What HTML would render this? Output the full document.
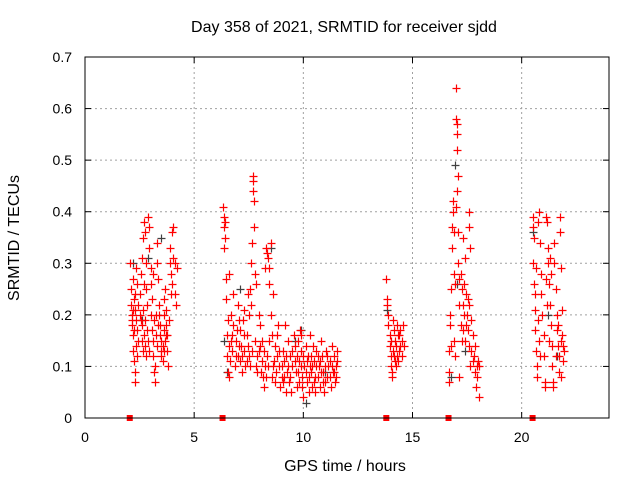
<!DOCTYPE html>
<html><head><meta charset="utf-8"><style>
body{margin:0;background:#fff}
svg text{font-family:"Liberation Sans",sans-serif;font-size:14px;fill:#000}
svg text.big{font-size:16px}
</style></head><body>
<svg id="chart" width="640" height="480" viewBox="0 0 640 480" xmlns="http://www.w3.org/2000/svg">
<rect width="640" height="480" fill="#fff"/>
<text class="big" x="344" y="32" text-anchor="middle">Day 358 of 2021, SRMTID for receiver sjdd</text>
<text class="big" x="345" y="471" text-anchor="middle">GPS time / hours</text>
<text class="big" transform="translate(19,238) rotate(-90)" text-anchor="middle">SRMTID / TECUs</text>
<g id="grid"></g><g id="axes"></g><g id="pts"></g>
<rect x="85" y="57" width="524" height="361" fill="none" stroke="#000" stroke-width="1"/>
</svg>
<script>
const xTicks=[0,5,10,15,20];
const yTicks=[0,0.1,0.2,0.3,0.4,0.5,0.6,0.7];
const yTickLabels=["0","0.1","0.2","0.3","0.4","0.5","0.6","0.7"];
const passStarts=[2.05,6.3,13.8,16.65,20.5];
const passA=[[2.05,0.30],[2.1,0.25],[2.1,0.22],[2.15,0.2],[2.15,0.18],[2.2,0.16],[2.2,0.13],[2.25,0.11],[2.3,0.07],[2.3,0.09],[2.2,0.27],[2.25,0.23],[2.3,0.21],[2.35,0.19],[2.4,0.17],[2.45,0.15],[2.5,0.24],[2.55,0.28],[2.6,0.31],[2.65,0.35],[2.7,0.38],[2.75,0.36],[2.8,0.3],[2.5,0.2],[2.6,0.18],[2.7,0.16],[2.75,0.14],[2.8,0.12],[2.85,0.22],[2.9,0.39],[2.95,0.37],[2.95,0.33],[3.0,0.26],[3.0,0.2],[3.05,0.17],[3.1,0.15],[3.1,0.12],[3.15,0.09],[3.2,0.07],[3.2,0.1],[3.3,0.34],[3.3,0.3],[3.35,0.27],[3.4,0.22],[3.45,0.18],[3.5,0.15],[3.5,0.13],[3.55,0.11],[3.6,0.2],[3.6,0.23],[3.65,0.25],[3.7,0.16],[3.75,0.13],[3.8,0.1],[3.9,0.33],[3.9,0.3],[3.95,0.28],[4.0,0.26],[4.0,0.36],[4.05,0.37],[4.1,0.3],[4.1,0.24],[4.15,0.22],[3.0,0.29],[2.4,0.26],[2.3,0.24],[3.4,0.2],[3.5,0.12],[2.8,0.25],[3.7,0.18]];
const passA2=[[2.15,0.19],[2.2,0.21],[2.25,0.17],[2.35,0.14],[2.4,0.12],[2.45,0.22],[2.55,0.19],[2.6,0.15],[2.65,0.21],[2.7,0.26],[2.75,0.19],[2.85,0.17],[2.9,0.15],[2.95,0.13],[3.05,0.23],[3.1,0.28],[3.15,0.19],[3.25,0.16],[3.3,0.14],[3.35,0.18],[3.45,0.16],[3.55,0.14],[3.6,0.17],[3.65,0.15],[3.7,0.21],[3.75,0.16],[3.85,0.19],[3.95,0.24],[4.05,0.31],[4.2,0.29],[2.35,0.29],[3.25,0.2],[2.65,0.13],[3.6,0.13]];
const passB=[[6.3,0.41],[6.35,0.39],[6.35,0.37],[6.4,0.38],[6.4,0.35],[6.35,0.33],[6.45,0.27],[6.45,0.23],[6.5,0.16],[6.5,0.12],[6.55,0.09],[6.6,0.08],[6.7,0.2],[6.7,0.15],[6.75,0.13],[6.8,0.18],[6.85,0.1],[6.9,0.12],[6.95,0.17],[7.0,0.22],[7.05,0.14],[7.1,0.11],[7.2,0.09],[7.25,0.19],[7.3,0.13],[7.35,0.1],[7.4,0.16],[7.5,0.12],[7.5,0.2],[7.55,0.25],[7.6,0.3],[7.6,0.22],[7.65,0.34],[7.7,0.47],[7.7,0.46],[7.7,0.44],[7.75,0.42],[7.75,0.37],[7.8,0.28],[7.85,0.26],[7.8,0.15],[7.9,0.12],[7.9,0.09],[8.0,0.14],[8.0,0.18],[8.1,0.11],[8.15,0.08],[8.2,0.13],[8.3,0.33],[8.35,0.32],[8.4,0.31],[8.45,0.29],[8.5,0.34],[8.5,0.2],[8.55,0.16],[8.6,0.1],[8.7,0.07],[8.7,0.14],[8.8,0.12],[8.85,0.18],[8.9,0.1],[8.95,0.06],[9.0,0.08],[9.05,0.13],[9.1,0.11],[9.2,0.05],[9.25,0.09],[9.3,0.15],[9.35,0.07],[9.4,0.12],[9.5,0.1],[9.55,0.16],[9.6,0.14],[9.65,0.09],[9.7,0.06],[9.8,0.11],[9.85,0.17],[9.9,0.13],[9.95,0.08],[10.0,0.04],[10.05,0.1],[10.1,0.14],[10.15,0.07],[10.2,0.12],[10.3,0.16],[10.35,0.09],[10.4,0.06],[10.5,0.11],[10.55,0.08],[10.6,0.13],[10.7,0.1],[10.75,0.06],[10.8,0.09],[10.85,0.12],[10.9,0.07],[11.0,0.1],[11.05,0.13],[11.1,0.08],[11.2,0.11],[11.25,0.06],[11.3,0.14],[11.35,0.09],[11.4,0.12],[11.45,0.07],[11.5,0.1],[11.55,0.11],[7.1,0.17],[7.3,0.21],[8.2,0.06],[8.6,0.24],[9.15,0.18],[9.45,0.05],[10.25,0.05],[10.45,0.14],[10.95,0.05],[8.25,0.1],[7.95,0.2],[6.8,0.24],[6.6,0.28],[9.9,0.16],[10.8,0.15],[9.75,0.09],[10.65,0.08],[11.15,0.1],[9.05,0.07],[10.35,0.12]];
const passB2=[[6.55,0.19],[6.6,0.14],[6.65,0.11],[6.75,0.16],[6.9,0.15],[7.0,0.12],[7.05,0.19],[7.15,0.14],[7.2,0.12],[7.3,0.16],[7.4,0.11],[7.45,0.14],[7.55,0.1],[7.65,0.13],[7.85,0.1],[7.95,0.13],[8.05,0.09],[8.1,0.15],[8.3,0.08],[8.35,0.12],[8.4,0.1],[8.45,0.15],[8.55,0.08],[8.65,0.11],[8.75,0.09],[8.8,0.16],[8.9,0.13],[9.0,0.1],[9.1,0.08],[9.2,0.12],[9.3,0.1],[9.4,0.08],[9.5,0.13],[9.6,0.11],[9.7,0.12],[9.75,0.15],[9.8,0.07],[9.9,0.1],[10.0,0.12],[10.1,0.09],[10.15,0.11],[10.25,0.08],[10.3,0.1],[10.4,0.1],[10.5,0.07],[10.6,0.1],[10.65,0.12],[10.75,0.11],[10.9,0.09],[11.0,0.07],[11.1,0.12],[11.2,0.08],[11.3,0.1],[11.4,0.09],[11.5,0.08],[11.55,0.13],[8.45,0.26],[7.45,0.24],[8.25,0.29],[9.95,0.06],[10.55,0.05]];
const passC=[[13.8,0.27],[13.85,0.23],[13.85,0.22],[13.9,0.2],[13.9,0.18],[13.95,0.16],[13.95,0.14],[14.0,0.12],[14.0,0.1],[14.05,0.09],[14.05,0.08],[14.1,0.13],[14.15,0.17],[14.2,0.15],[14.2,0.11],[14.25,0.14],[14.3,0.18],[14.3,0.12],[14.35,0.16],[14.4,0.13],[14.45,0.17],[14.5,0.15],[14.5,0.12],[14.55,0.18],[14.6,0.14],[14.1,0.19],[14.25,0.1],[14.4,0.16],[14.0,0.15],[14.15,0.12],[14.35,0.11],[14.45,0.14]];
const passD=[[16.65,0.07],[16.65,0.09],[16.65,0.13],[16.7,0.2],[16.7,0.18],[16.75,0.14],[16.75,0.25],[16.8,0.33],[16.8,0.37],[16.85,0.42],[16.85,0.4],[16.9,0.36],[16.9,0.28],[16.95,0.26],[17.0,0.64],[17.0,0.58],[17.05,0.57],[17.05,0.55],[17.05,0.52],[17.1,0.47],[17.05,0.44],[17.1,0.36],[17.1,0.3],[17.15,0.27],[17.15,0.22],[17.2,0.18],[17.25,0.15],[17.3,0.22],[17.35,0.26],[17.4,0.31],[17.45,0.24],[17.5,0.2],[17.55,0.17],[17.6,0.14],[17.65,0.1],[17.7,0.13],[17.75,0.16],[17.8,0.12],[17.85,0.09],[17.9,0.06],[17.95,0.08],[18.0,0.11],[18.05,0.04],[18.05,0.1],[17.6,0.4],[17.6,0.37],[17.65,0.33],[17.6,0.22],[17.2,0.28],[17.3,0.35],[16.95,0.12],[17.15,0.08],[17.0,0.41],[17.7,0.19],[17.25,0.25],[17.35,0.2],[17.45,0.18],[17.55,0.23],[17.75,0.11],[17.85,0.14],[17.95,0.1],[17.4,0.15],[17.3,0.17],[16.9,0.15]];
const passE=[[20.5,0.39],[20.5,0.37],[20.55,0.35],[20.5,0.3],[20.55,0.26],[20.6,0.21],[20.6,0.17],[20.65,0.13],[20.7,0.1],[20.7,0.08],[20.75,0.38],[20.8,0.4],[20.85,0.34],[20.9,0.28],[20.9,0.24],[20.95,0.2],[21.0,0.16],[21.0,0.12],[21.05,0.07],[21.05,0.06],[21.1,0.39],[21.15,0.38],[21.2,0.33],[21.2,0.3],[21.25,0.26],[21.3,0.22],[21.35,0.18],[21.4,0.14],[21.4,0.1],[21.45,0.07],[21.45,0.06],[21.5,0.34],[21.5,0.3],[21.55,0.25],[21.6,0.2],[21.6,0.17],[21.65,0.14],[21.7,0.12],[21.7,0.09],[21.75,0.39],[21.75,0.36],[21.8,0.29],[21.85,0.21],[21.85,0.16],[21.9,0.14],[21.95,0.13],[21.9,0.11],[21.8,0.08],[20.65,0.29],[21.1,0.27],[21.3,0.31],[20.6,0.24],[20.75,0.19],[20.8,0.15],[20.85,0.12],[21.15,0.22],[21.25,0.15],[21.35,0.28],[21.55,0.12],[21.65,0.18],[21.8,0.15]];
const grayPts=[[2.2,0.3],[2.6,0.19],[3.5,0.35],[2.9,0.31],[6.35,0.15],[6.5,0.09],[7.1,0.25],[8.5,0.33],[9.6,0.15],[9.9,0.17],[10.1,0.03],[11.0,0.09],[13.85,0.21],[16.95,0.49],[17.05,0.26],[17.4,0.13],[20.5,0.36],[21.2,0.2],[21.6,0.12],[16.75,0.08]];

const X0=85,X1=609,Y0=418,Y1=57,XMAX=24,YMAX=0.7;
function sx(h){return X0+(h/XMAX)*(X1-X0);}
function sy(v){return Y0-(v/YMAX)*(Y0-Y1);}
const NS="http://www.w3.org/2000/svg";
function mk(tag,parent,attrs){const e=document.createElementNS(NS,tag);for(const k in attrs)e.setAttribute(k,attrs[k]);parent.appendChild(e);return e;}
const grid=document.getElementById('grid'),axes=document.getElementById('axes'),pts=document.getElementById('pts');
xTicks.forEach(t=>{
  const x=sx(t);
  if(t>0){const g=mk('line',grid,{x1:x,x2:x,y1:Y1,y2:Y0,stroke:'#a0a0a0','stroke-dasharray':'2,3'});
  
  }
  mk('line',axes,{x1:x,x2:x,y1:Y0,y2:Y0-6,stroke:'#000'});
  mk('line',axes,{x1:x,x2:x,y1:Y1,y2:Y1+6,stroke:'#000'});
  const l=mk('text',axes,{x:x,y:Y0+24,'text-anchor':'middle'});l.textContent=t;
  
  
});
yTicks.forEach((t,i)=>{
  const y=sy(t);
  if(t>0&&t<YMAX){const g=mk('line',grid,{x1:X0,x2:X1,y1:y,y2:y,stroke:'#a0a0a0','stroke-dasharray':'2,3'});
  
  }
  mk('line',axes,{x1:X0,x2:X0+6,y1:y,y2:y,stroke:'#000'});
  mk('line',axes,{x1:X1,x2:X1-6,y1:y,y2:y,stroke:'#000'});
  const l=mk('text',axes,{x:X0-13,y:y+5,'text-anchor':'end'});l.textContent=yTickLabels[i];
  
  
});
function cross(p,col){
  const x=Math.round(sx(p[0]))+0.5,y=Math.round(sy(p[1]))+0.5;
  const pth=mk('path',pts,{d:`M${x-4},${y}H${x+4}M${x},${y-4}V${y+4}`,stroke:col,'stroke-width':1.2,fill:'none'});
  
  
}
grayPts.forEach(p=>cross(p,'#404040'));
[passA,passA2,passB,passB2,passC,passD,passE].forEach(s=>s.forEach(p=>cross(p,'#ff0000')));
passStarts.forEach(h=>{
  const r=mk('rect',pts,{x:sx(h)-3,y:Y0-3,width:6,height:6,fill:'#ff0000'});
  
  
});
</script>
</body></html>
